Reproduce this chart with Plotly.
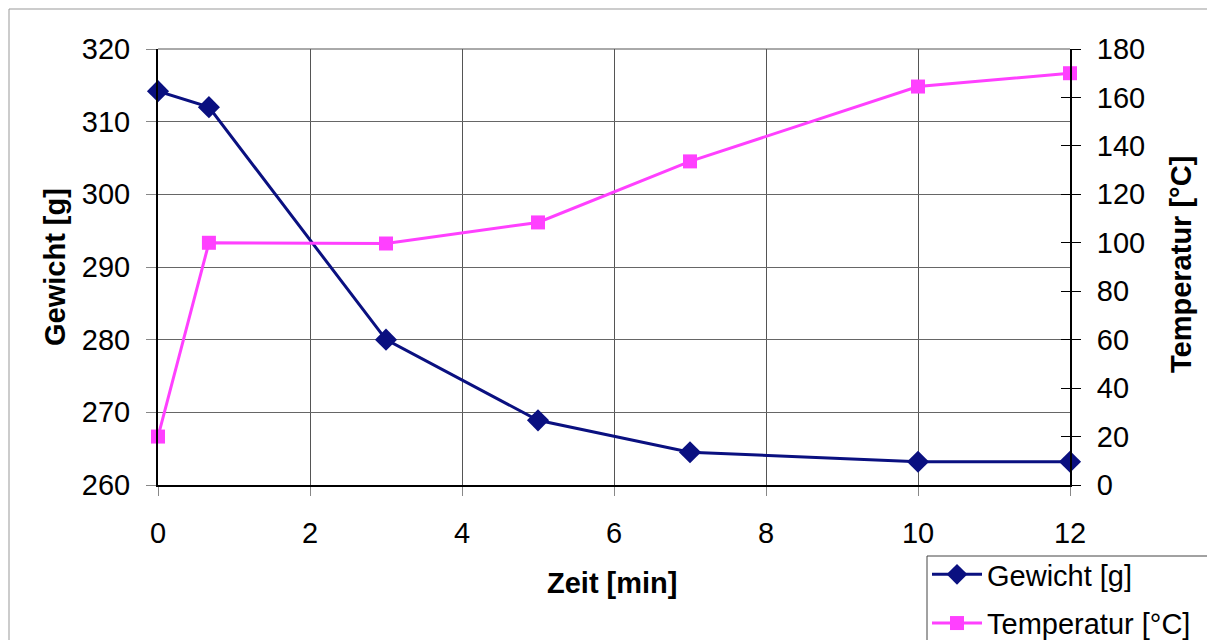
import plotly.graph_objects as go

zeit = [0, 0.67, 3, 5, 7, 10, 12]
gewicht = [314.2, 312.0, 280.0, 268.9, 264.5, 263.2, 263.2]
temperatur = [20, 100, 99.7, 108.4, 133.6, 164.5, 170]

x_ticks = [0, 2, 4, 6, 8, 10, 12]
y1_ticks = [260, 270, 280, 290, 300, 310, 320]
y2_ticks = [0, 20, 40, 60, 80, 100, 120, 140, 160, 180]

FONT = "Liberation Sans, Arial, sans-serif"
BLUE = "#0a1080"
PINK = "#ff40ff"

fig = go.Figure()
fig.add_trace(go.Scatter(
    x=zeit, y=gewicht, name="Gewicht [g]", mode="lines+markers",
    line=dict(color=BLUE, width=3),
    marker=dict(symbol="diamond", size=17, color=BLUE),
    yaxis="y", cliponaxis=False, legendgroup="a",
))
fig.add_trace(go.Scatter(
    x=zeit, y=temperatur, name="Temperatur [°C]", mode="lines+markers",
    line=dict(color=PINK, width=3),
    marker=dict(symbol="square", size=14, color=PINK),
    yaxis="y2", cliponaxis=False, legendgroup="b",
))
# invisible trace to draw inner tick marks on the right axis
fig.add_trace(go.Scatter(
    x=[zeit[0]], y=[temperatur[0]], yaxis="y3", mode="markers",
    marker=dict(opacity=0), showlegend=False, hoverinfo="skip",
))

# page is offset by 8px body margin
OFF = 8
W, H = 1215 - OFF, 640 - OFF
PL, PT, PR, PB = 158, 49, 1070, 485  # plot area in page pixels
L, T = PL - OFF, PT - OFF
R, B = W - (PR - OFF), H - (PB - OFF)
pw, ph = PR - PL, PB - PT

def px(xp):
    return (xp - PL) / pw

def py(yp):
    return (PB - yp) / ph

TICK = 29
fig.update_layout(
    width=W, height=H,
    margin=dict(l=L, r=R, t=T, b=B, autoexpand=False),
    paper_bgcolor="white", plot_bgcolor="white",
    font=dict(family=FONT, size=TICK, color="black"),
    xaxis=dict(
        range=[0, 12], tickvals=x_ticks, ticks="outside", ticklen=9,
        tickcolor="#888", tickwidth=1, ticklabelstandoff=12,
        showgrid=True, gridcolor="#555", gridwidth=1,
        showline=True, linecolor="black", linewidth=2,
        zeroline=False, tickfont=dict(size=TICK),
    ),
    yaxis=dict(
        range=[260, 320], tickvals=y1_ticks, ticks="outside", ticklen=10,
        tickcolor="#888", tickwidth=1, ticklabelstandoff=10,
        showgrid=True, gridcolor="#666", gridwidth=1,
        showline=True, linecolor="black", linewidth=2,
        zeroline=False, tickfont=dict(size=TICK),
    ),
    yaxis2=dict(
        range=[0, 180], tickvals=y2_ticks, ticks="outside", ticklen=9,
        tickcolor="black", tickwidth=1, ticklabelstandoff=10,
        overlaying="y", side="right", showgrid=False,
        showline=True, linecolor="black", linewidth=2,
        zeroline=False, tickfont=dict(size=TICK),
    ),
    yaxis3=dict(
        range=[0, 180], tickvals=y2_ticks, ticks="inside", ticklen=9,
        tickcolor="black", tickwidth=1, showticklabels=False,
        overlaying="y", side="right", showgrid=False, showline=False,
        zeroline=False,
    ),
    legend=dict(
        x=px(927), y=py(549), xanchor="left", yanchor="top",
        borderwidth=0, bgcolor="rgba(0,0,0,0)",
        font=dict(size=29), tracegroupgap=8, itemwidth=50,
    ),
    showlegend=True,
)

# top frame line of the plot area, outer chart border, legend box
fig.add_shape(type="line", xref="paper", yref="paper", x0=0, x1=1, y0=1, y1=1,
              line=dict(color="#555", width=1))
fig.add_shape(type="rect", xref="paper", yref="paper",
              x0=px(9), x1=px(1230), y0=py(9), y1=py(660),
              line=dict(color="#999", width=1), layer="below")
fig.add_shape(type="rect", xref="paper", yref="paper",
              x0=px(927), x1=px(1230), y0=py(556), y1=py(660),
              line=dict(color="#444", width=1), fillcolor="white", layer="below")

TITLE = 29
fig.add_annotation(text="<b>Gewicht [g]</b>", xref="paper", yref="paper",
                   x=px(55), y=py(267), textangle=-90, showarrow=False,
                   xanchor="center", yanchor="middle", font=dict(size=TITLE))
fig.add_annotation(text="<b>Temperatur [°C]</b>", xref="paper", yref="paper",
                   x=px(1181), y=py(265), textangle=-90, showarrow=False,
                   xanchor="center", yanchor="middle", font=dict(size=TITLE))
fig.add_annotation(text="<b>Zeit [min]</b>", xref="paper", yref="paper",
                   x=px(612), y=py(583), showarrow=False,
                   xanchor="center", yanchor="middle", font=dict(size=TITLE))

fig.write_html("out.html")
